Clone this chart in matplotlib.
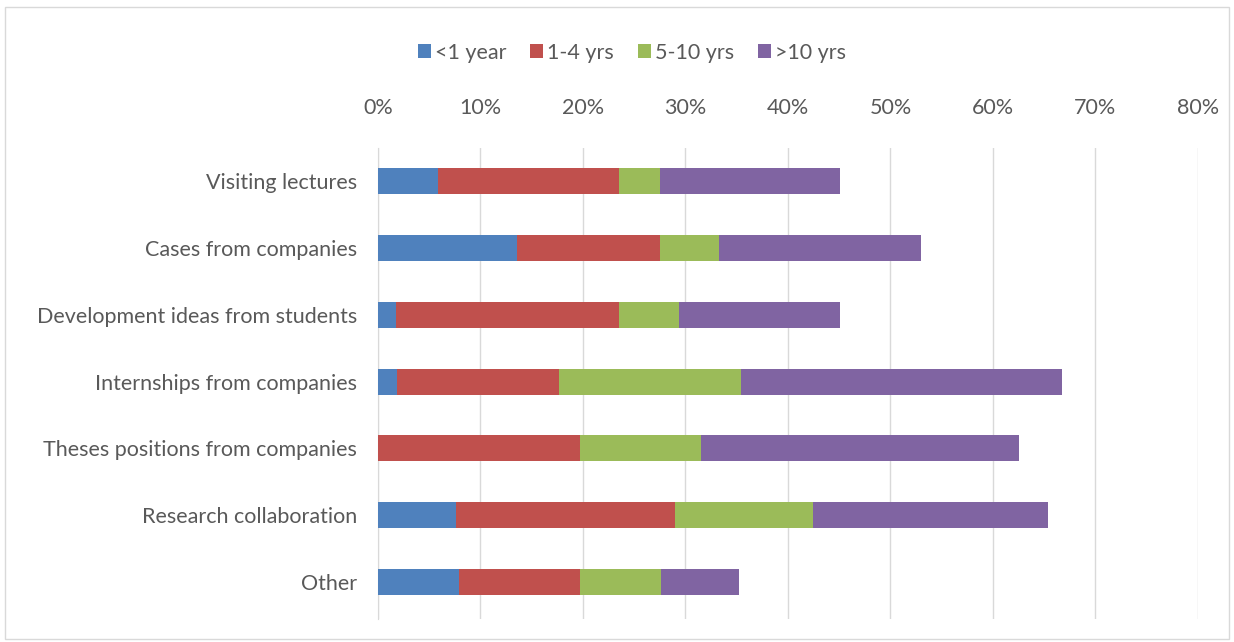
import matplotlib.pyplot as plt
from matplotlib.ticker import FuncFormatter
import numpy as np

plt.rcParams['font.family'] = ['Lato', 'DejaVu Sans']

# Kategorien (von oben nach unten)
kategorien = ["Visiting lectures", "Cases from companies", "Development ideas from students",
              "Internships from companies", "Theses positions from companies",
              "Research collaboration", "Other"]

# Anteile in % je Berufserfahrung
unter_1 = [5.9, 13.6, 1.8, 1.9, 0.0, 7.6, 7.9]
j1_4 = [17.6, 13.9, 21.7, 15.8, 19.7, 21.4, 11.8]
j5_10 = [4.0, 5.8, 5.9, 17.7, 11.8, 13.4, 7.9]
ueber_10 = [17.6, 19.7, 15.7, 31.3, 31.0, 23.0, 7.6]

serien = [("<1 year", unter_1, "#4F81BD"),
          ("1-4 yrs", j1_4, "#C0504D"),
          ("5-10 yrs", j5_10, "#9BBB59"),
          (">10 yrs", ueber_10, "#8064A2")]

fs = 15.5

fig = plt.figure(figsize=(12.34, 6.42), dpi=100)
ax = fig.add_axes([0.3063, 0.036, 0.6645, 0.734])

y = np.arange(len(kategorien))
links = np.zeros(len(kategorien))
for name, werte, farbe in serien:
    ax.barh(y, werte, left=links, height=0.39, color=farbe, label=name, zorder=3)
    links += np.array(werte)

ax.set_xlim(0, 80)
ax.set_ylim(6.55, -0.5)
ax.set_xticks(range(0, 81, 10))
ax.xaxis.set_major_formatter(FuncFormatter(lambda v, p: f"{v:.0f}%"))
ax.xaxis.tick_top()
ax.set_yticks(y)
ax.set_yticklabels(kategorien)
ax.tick_params(axis='x', length=0, pad=21, labelsize=fs, labelcolor='#595959')
ax.tick_params(axis='y', length=0, pad=15, labelsize=fs, labelcolor='#595959')
ax.grid(axis='x', color='#D9D9D9', linewidth=1, zorder=0)
for s in ['top', 'right', 'bottom']:
    ax.spines[s].set_visible(False)
ax.spines['left'].set_color('#D9D9D9')

fig.legend(loc='center', bbox_to_anchor=(0.512, 0.918), ncol=4, frameon=False,
           fontsize=fs, handlelength=0.6, handleheight=0.6, handletextpad=0.2,
           columnspacing=1.1, labelcolor='#595959')

# Rahmen wie im Excel-Diagramm
fig.patches.append(plt.Rectangle((0.004, 0.004), 0.992, 0.985, transform=fig.transFigure,
                                 fill=False, edgecolor='#D9D9D9', linewidth=1))

plt.savefig("out.png", dpi=100)
